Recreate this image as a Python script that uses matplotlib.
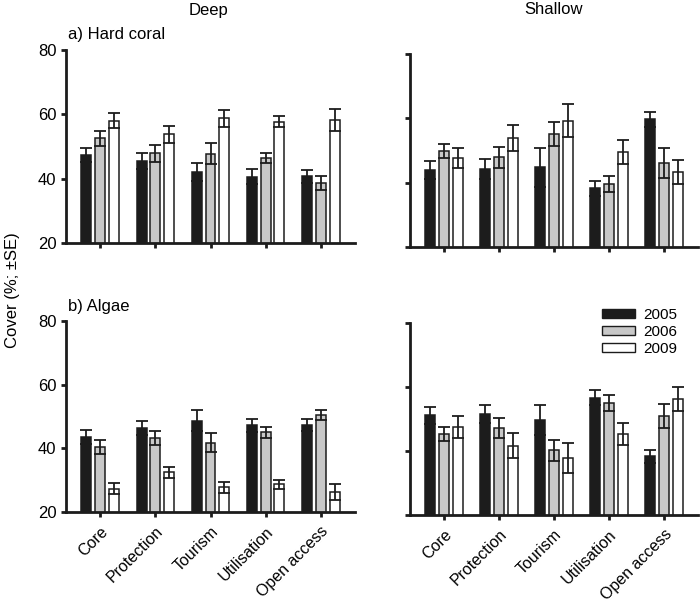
import matplotlib
matplotlib.use("Agg")
import matplotlib.pyplot as plt
from matplotlib.patches import Patch
import numpy as np

plt.rcParams['font.family'] = ['Liberation Sans', 'DejaVu Sans']

categories = ["Core", "Protection", "Tourism", "Utilisation", "Open access"]
years = ["2005", "2006", "2009"]

# Hard coral, deep
deep_coral_2005 = [47.3, 45.5, 42.2, 40.6, 40.7]
deep_coral_2005_se = [2.1, 2.5, 2.8, 2.3, 1.9]
deep_coral_2006 = [52.6, 47.9, 47.8, 46.4, 38.6]
deep_coral_2006_se = [2.3, 2.6, 3.2, 1.5, 2.2]
deep_coral_2009 = [58.0, 53.8, 58.8, 57.7, 58.2]
deep_coral_2009_se = [2.3, 2.7, 2.7, 1.7, 3.5]

# Hard coral, shallow
shallow_coral_2005 = [43.9, 44.2, 44.8, 38.2, 59.7]
shallow_coral_2005_se = [2.7, 3.1, 6.1, 2.4, 2.3]
shallow_coral_2006 = [49.8, 47.9, 55.2, 39.6, 46.2]
shallow_coral_2006_se = [2.2, 3.3, 3.7, 2.6, 4.6]
shallow_coral_2009 = [47.7, 53.9, 59.3, 49.6, 43.3]
shallow_coral_2009_se = [3.2, 4.0, 5.2, 3.8, 3.7]

# Algae, deep
deep_algae_2005 = [43.7, 46.4, 48.7, 47.2, 47.4]
deep_algae_2005_se = [2.2, 2.3, 3.2, 2.1, 1.9]
deep_algae_2006 = [40.3, 43.2, 41.8, 45.0, 50.4]
deep_algae_2006_se = [2.2, 2.3, 3.0, 1.8, 1.5]
deep_algae_2009 = [27.3, 32.5, 27.7, 28.7, 26.4]
deep_algae_2009_se = [1.7, 1.7, 1.7, 1.4, 2.5]

# Algae, shallow
shallow_algae_2005 = [51.1, 51.6, 49.7, 56.7, 38.3]
shallow_algae_2005_se = [2.6, 2.9, 4.8, 2.4, 2.0]
shallow_algae_2006 = [45.3, 47.1, 40.2, 55.0, 50.9]
shallow_algae_2006_se = [2.2, 3.1, 3.3, 2.4, 3.7]
shallow_algae_2009 = [47.5, 41.6, 37.7, 45.3, 56.2]
shallow_algae_2009_se = [3.3, 3.9, 4.7, 3.5, 3.8]

yticks = [20, 40, 60, 80]

colors = ["#1c1c1c", "#c8c8c8", "#ffffff"]
W, H = 700, 605
fig = plt.figure(figsize=(W / 100, H / 100), dpi=100)


def rect(l, r, t, b):
    return [l / W, 1 - b / H, (r - l) / W, (b - t) / H]


panels = [
    (rect(66, 355, 50, 243), [deep_coral_2005, deep_coral_2006, deep_coral_2009],
     [deep_coral_2005_se, deep_coral_2006_se, deep_coral_2009_se], True),
    (rect(410, 698, 54, 247), [shallow_coral_2005, shallow_coral_2006, shallow_coral_2009],
     [shallow_coral_2005_se, shallow_coral_2006_se, shallow_coral_2009_se], False),
    (rect(66, 355, 321, 512), [deep_algae_2005, deep_algae_2006, deep_algae_2009],
     [deep_algae_2005_se, deep_algae_2006_se, deep_algae_2009_se], True),
    (rect(410, 698, 323, 515), [shallow_algae_2005, shallow_algae_2006, shallow_algae_2009],
     [shallow_algae_2005_se, shallow_algae_2006_se, shallow_algae_2009_se], False),
]

x = np.arange(len(categories))
offsets = [-0.25, 0.0, 0.25]
axes = []
for i, (r, vals, ses, left) in enumerate(panels):
    ax = fig.add_axes(r)
    axes.append(ax)
    for k in range(3):
        ax.bar(x + offsets[k], vals[k], width=0.18, color=colors[k],
               edgecolor="#1c1c1c", linewidth=1.1, zorder=2)
        ax.errorbar(x + offsets[k], vals[k], yerr=ses[k], fmt="none",
                    ecolor="#1c1c1c", elinewidth=1.3, capsize=4.5,
                    capthick=1.3, zorder=3)
    ax.set_ylim(20, 80)
    ax.set_xlim(-0.62, 4.62)
    ax.set_yticks(yticks)
    ax.set_xticks(x)
    for s in ["top", "right"]:
        ax.spines[s].set_visible(False)
    for s in ["left", "bottom"]:
        ax.spines[s].set_linewidth(2.0)
        ax.spines[s].set_color("#1c1c1c")
    ax.tick_params(axis="both", direction="out", length=3.5, width=2.0,
                   color="#1c1c1c", labelsize=12)
    ax.tick_params(axis="x", pad=5)
    if left:
        ax.set_yticklabels([str(t) for t in yticks])
    else:
        ax.set_yticklabels([])
    if i >= 2:
        ax.set_xticklabels(categories, rotation=45, ha="right",
                           rotation_mode="anchor", fontsize=11.5)
    else:
        ax.set_xticklabels([])

fig.text(208 / W, 1 - 10 / H, "Deep", ha="center", va="center", fontsize=12)
fig.text(554 / W, 1 - 10 / H, "Shallow", ha="center", va="center", fontsize=12)
fig.text(68 / W, 1 - 35 / H, "a) Hard coral", ha="left", va="center", fontsize=12)
fig.text(68 / W, 1 - 306 / H, "b) Algae", ha="left", va="center", fontsize=12)
fig.text(13 / W, 1 - 290 / H, "Cover (%; \u00b1SE)", ha="center", va="center",
         rotation=90, fontsize=12)

handles = [Patch(facecolor=c, edgecolor="#1c1c1c", linewidth=1.0) for c in colors]
axes[3].legend(handles, years, loc="upper left", bbox_to_anchor=(0.645, 1.11),
               frameon=False, fontsize=11, handlelength=2.2, handleheight=0.5,
               labelspacing=0.2, handletextpad=0.5, borderaxespad=0)

fig.savefig("out.png", dpi=100)
